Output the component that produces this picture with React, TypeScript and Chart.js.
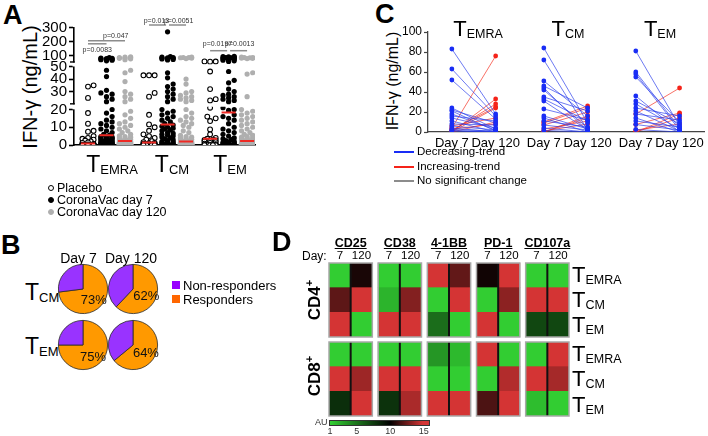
import React, { useEffect, useRef } from "react";
import { Chart, registerables } from "chart.js";

Chart.register(...registerables);

const FONT = '"Liberation Sans", Arial, Helvetica, sans-serif';
Chart.defaults.font.family = FONT;
Chart.defaults.color = "#000";

/* ---------------- Panel A data ---------------- */
const subsetsA = ["EMRA", "CM", "EM"];
const seriesNamesA = ["Placebo", "CoronaVac day 7", "CoronaVac day 120"];
const placeboEMRA = [35, 34, 25, 18, 12, 8, 7.5, 5, 4, 3.5, 3, 2.5, 2, 1.5, 1.2, 0.6, 0.3, 0.2, 0.1, 0, 0, 0, 0, 0, 0, 0, 0, 0, 0, 0];
const day7EMRA = [85, 82, 80, 78, 76, 74, 72, 70, 66, 62, 47, 42, 31, 29, 28, 26, 24, 22, 20, 18, 16, 14, 13, 12, 11, 10, 9, 8, 7, 6, 5.5, 4.8, 4.6, 4.4, 4.2, 4, 3.8, 3.5, 3.2, 3, 2.8, 2.5, 2.2, 2, 1.8, 1.6, 1.4, 1.2, 1, 0.8, 0.6, 0.5, 0.4, 0.3, 0.2, 0.1, 0, 0, 0, 0, 0];
const day120EMRA = [90, 88, 86, 85, 82, 80, 76, 70, 47, 45, 38, 30, 28, 26, 24, 22, 19, 17, 15, 13, 12, 11, 10, 9, 8, 7, 6, 5.2, 4.8, 4.4, 4, 3.6, 3.2, 2.9, 2.6, 2.3, 2.1, 2, 1.9, 1.8, 1.7, 1.6, 1.5, 1.4, 1.3, 1.2, 1.1, 1, 0.9, 0.8, 0.7, 0.6, 0.5, 0.45, 0.4, 0.35, 0.3, 0.25, 0.2, 0.15, 0.1, 0.05, 0, 0, 0, 0, 0, 0, 0, 0, 0, 0];
const placeboCM = [43, 43, 43, 29, 26, 17, 11.6, 10, 8, 6, 5, 4, 3, 2.2, 1.6, 1.2, 1, 0.8, 0.6, 0.4, 0.3, 0.2, 0.1, 0, 0, 0, 0, 0, 0, 0];
const day7CM = [270, 92, 88, 86, 84, 82, 80, 78, 75, 72, 68, 45, 41, 36, 34, 32, 30, 28, 26, 24, 22, 20, 19, 18, 17, 16, 15, 14, 13, 12, 11.2, 10.5, 10, 9.5, 9, 8.5, 8, 7, 6.5, 6, 5.5, 5, 4.5, 4, 3.5, 3, 2.5, 2, 1.8, 1.5, 1.2, 1, 0.8, 0.6, 0.4, 0.2, 0, 0, 0, 0];
const day120CM = [88, 86, 85, 84, 82, 78, 40, 36, 30, 29, 27, 26, 25, 24, 23, 22, 20, 18, 16, 15, 14, 13, 12, 11, 10, 8, 7, 5.5, 4.8, 4.4, 4, 3.6, 3.2, 2.8, 2.4, 2.1, 1.9, 1.8, 1.7, 1.6, 1.5, 1.4, 1.3, 1.2, 1.1, 1, 0.9, 0.8, 0.7, 0.6, 0.5, 0.45, 0.4, 0.35, 0.3, 0.25, 0.2, 0.15, 0.1, 0.05, 0, 0, 0, 0, 0, 0, 0, 0, 0, 0, 0, 0];
const placeboEM = [58, 57, 56, 46, 32, 24, 23, 21, 16, 15, 13.5, 8.8, 6, 4, 3.5, 3, 2.8, 2.6, 2.4, 2, 1.6, 1.2, 0.8, 0.5, 0.2, 0, 0, 0, 0];
const day7EM = [95, 92, 90, 88, 86, 84, 82, 80, 78, 76, 74, 70, 66, 62, 58, 46, 39, 37, 32, 30, 28, 27, 26, 25, 24, 23, 22, 21, 20, 19.5, 17, 16, 15, 14, 12, 10, 9, 8, 7, 6, 5, 4, 3.5, 3, 2.5, 2, 1.8, 1.5, 1.2, 1, 0.8, 0.6, 0.4, 0.2, 0, 0, 0, 0, 0, 0];
const day120EM = [88, 86, 85, 84, 82, 80, 78, 45, 44, 26, 20, 19, 18, 17, 16, 15, 14, 13, 12, 11, 10, 9, 8, 7, 6, 5.5, 4.8, 4.5, 4.2, 3.9, 3.6, 3.3, 3, 2.7, 2.4, 2.3, 2.1, 2, 1.9, 1.8, 1.7, 1.6, 1.5, 1.4, 1.3, 1.2, 1.1, 1, 0.9, 0.8, 0.7, 0.6, 0.5, 0.45, 0.4, 0.35, 0.3, 0.25, 0.2, 0.15, 0.1, 0.05, 0, 0, 0, 0, 0, 0, 0, 0, 0, 0];
const yTicksA = [0, 10, 20, 30, 40, 50, 100, 200, 300];
const pValuesA = ["p=0.0083", "p=0.047", "p=0.013", "p=0.0051", "p=0.0197", "p=0.0013"];

/* ---------------- Panel B data ---------------- */
const pieLabelsB = ["Responders", "Non-responders"];
const pieDaysB = ["Day 7", "Day 120"];
const respondersCM = [73, 62];
const respondersEM = [75, 64];

/* ---------------- Panel C data ---------------- */
const subsetsC = ["EMRA", "CM", "EM"];
const daysC = ["Day 7", "Day 120"];
const emraDecDay7 = [83, 63, 52, 24, 22, 21, 18, 16, 14, 11, 8, 6, 4, 2.5, 1.5, 1];
const emraDecDay120 = [18, 16, 13, 3, 9, 1, 2, 11, 4, 0, 7, 2, 0, 1, 0, 0];
const emraIncDay7 = [4, 0, 1, 2, 0, 6, 0, 3];
const emraIncDay120 = [76, 33, 28, 25, 24, 14, 10, 8];
const cmDecDay7 = [84, 72, 51, 46, 44, 42, 35, 33, 31, 23, 16, 14, 11, 7, 4, 1.5];
const cmDecDay120 = [9, 2, 16, 24, 1, 4, 21, 11, 2, 12, 3, 0, 5, 2, 0, 0];
const cmIncDay7 = [10, 9, 7, 0, 0, 3, 1];
const cmIncDay120 = [26, 24, 20, 16, 14, 11, 8];
const emDecDay7 = [81, 60, 58, 55, 36, 31, 28, 24, 21, 18, 14, 11, 7.5, 2.5];
const emDecDay120 = [6, 4, 2, 10, 0, 8, 3, 16, 1, 12, 0, 5, 2, 0];
const emIncDay7 = [18, 7.5, 0, 0, 2];
const emIncDay120 = [44, 19, 18, 14, 8];
const yTicksC = [0, 20, 40, 60, 80, 100];
const legendC = ["Decreasing-trend", "Increasing-trend", "No significant change"];

/* ---------------- Panel D data (AU) ---------------- */
const markersD = ["CD25", "CD38", "4-1BB", "PD-1", "CD107a"];
const rowsD = ["EMRA", "CM", "EM"];
// per marker: [TEMRA, TCM, TEM]
const cd4Day7 = [[1, 12.2, 15], [1, 2.1, 15], [15, 1, 5.2], [10.4, 1, 15], [1, 15, 6.9]];
const cd4Day120 = [[10.6, 15, 1], [1, 13.1, 15], [12.3, 15, 1], [15, 13.3, 1], [1, 15, 6.9]];
const cd8Day7 = [[1, 15, 8.0], [1, 15, 7.8], [3.4, 1, 15], [15, 1, 11.8], [1, 15, 1.7]];
const cd8Day120 = [[1, 13.7, 15], [1, 15, 14], [1.9, 1, 15], [1, 14.2, 15], [15, 13.9, 1]];
const auTicks = [1, 5, 10, 15];

/* ---------------- helpers ---------------- */
const BLUE = "rgb(25,45,245)";
const RED = "rgb(245,35,25)";
const GRAY_PT = "rgb(175,175,175)";
const ORANGE = "#FF9900";
const PURPLE = "#9933FF";

function median(a: number[]) {
  const s = [...a].sort((p, q) => p - q);
  const n = s.length;
  return n % 2 ? s[(n - 1) / 2] : (s[n / 2 - 1] + s[n / 2]) / 2;
}

const xPosA = (g: number, s: number) => 1 + g * 3.3 + s;
const segOf = (v: number) => (v <= 21.5 ? "y1" : v <= 51.6 ? "y2" : "y3");

// deterministic beeswarm spreading of points with similar values
function swarm(values: number[], cx: number) {
  const PX = 18.5;
  const pix = (v: number) => (v <= 21.5 ? 145.7 - 1.785 * v : v <= 51.6 ? 66.7 + (50 - v) * 1.265 : 62.7 - (v - 50) * 0.14);
  const cands = [0, 2.8, -2.8, 5.6, -5.6];
  const placed: { px: number; py: number }[] = [];
  const order = values.map((_, i) => i).sort((a, b) => values[a] - values[b]);
  const out: { x: number; y: number }[] = new Array(values.length);
  for (const i of order) {
    const py = pix(values[i]);
    let best = 0;
    let bestScore = Infinity;
    cands.forEach((c, k) => {
      let score = k * 0.01;
      for (const p of placed) {
        const d = Math.hypot(p.px - c, p.py - py);
        if (d < 4.8) score += 4.8 - d;
      }
      if (score < bestScore) {
        bestScore = score;
        best = c;
      }
    });
    placed.push({ px: best, py });
    out[i] = { x: cx + best / PX, y: values[i] };
  }
  return out;
}

function auColor(v: number) {
  const g = [50, 205, 50];
  const r = [212, 52, 52];
  if (v <= 10) {
    const t = Math.max(0, (v - 1) / 9);
    return `rgb(${g.map((c) => Math.round(c * (1 - t))).join(",")})`;
  }
  const t = Math.min(1, (v - 10) / 5);
  return `rgb(${r.map((c) => Math.round(c * t)).join(",")})`;
}

/* ---------------- chart configs ---------------- */
const baseOpts = {
  responsive: false,
  maintainAspectRatio: false,
  animation: false,
  devicePixelRatio: 1,
  events: [],
};

function configA() {
  const valuesA = [
    [placeboEMRA, placeboCM, placeboEM],
    [day7EMRA, day7CM, day7EM],
    [day120EMRA, day120CM, day120EM],
  ];
  const styles = [
    { fill: "#fff", stroke: "#000", bw: 1.1 },
    { fill: "#000", stroke: "#000", bw: 0 },
    { fill: GRAY_PT, stroke: GRAY_PT, bw: 0 },
  ];
  const datasets: any[] = [];
  valuesA.forEach((groups, s) => {
    const segs: Record<string, any[]> = { y1: [], y2: [], y3: [] };
    groups.forEach((vals, g) => swarm(vals, xPosA(g, s)).forEach((p) => segs[segOf(p.y)].push(p)));
    ["y1", "y2", "y3"].forEach((id) =>
      datasets.push({
        type: "scatter",
        label: seriesNamesA[s],
        yAxisID: id,
        data: segs[id],
        pointRadius: s === 0 ? 2.4 : 2.6,
        pointHoverRadius: 2.6,
        pointBackgroundColor: styles[s].fill,
        pointBorderColor: styles[s].stroke,
        pointBorderWidth: styles[s].bw,
        order: 1,
      })
    );
  });
  valuesA.forEach((groups, s) =>
    groups.forEach((vals, g) => {
      const m = median(vals);
      const cx = xPosA(g, s);
      datasets.push({
        type: "line",
        yAxisID: segOf(m),
        data: [
          { x: cx - 0.38, y: m },
          { x: cx + 0.38, y: m },
        ],
        borderColor: "#ee2a24",
        borderWidth: 2,
        pointRadius: 0,
        order: 0,
      })
    })
  );

  const yAxis = (tv: number[], min: number, max: number, weight: number) => ({
    type: "linear",
    position: "left",
    stack: "brk",
    stackWeight: weight,
    min,
    max,
    offset: false,
    border: { display: true, color: "#000", width: 1.6 },
    grid: { display: true, drawOnChartArea: false, drawTicks: true, tickLength: 5, tickColor: "#000", tickWidth: 1.6 },
    ticks: { font: { size: 15 }, color: "#000", padding: 2, autoSkip: false, maxRotation: 0 },
    afterBuildTicks: (sc: any) => {
      sc.ticks = tv.map((v) => ({ value: v }));
    },
    afterFit: (sc: any) => {
      sc.width = 40;
    },
  });

  const brackets = [
    { from: xPosA(0, 0), to: xPosA(0, 1), y: 43.8, text: pValuesA[0], tx: (xPosA(0, 0) + xPosA(0, 1)) / 2, ty: 51.5 },
    { from: xPosA(0, 0), to: xPosA(0, 2), y: 40.8, text: pValuesA[1], tx: (xPosA(0, 1) + xPosA(0, 2)) / 2, ty: 38 },
    { from: xPosA(1, 0), to: xPosA(1, 1) - 0.08, y: 25, text: pValuesA[2], tx: (xPosA(1, 0) + xPosA(1, 1)) / 2 - 0.1, ty: 23 },
    { from: xPosA(1, 1) + 0.08, to: xPosA(1, 2), y: 25, text: pValuesA[3], tx: (xPosA(1, 1) + xPosA(1, 2)) / 2 + 0.1, ty: 23 },
    { from: xPosA(2, 0), to: xPosA(2, 1) - 0.08, y: 50.7, text: pValuesA[4], tx: (xPosA(2, 0) + xPosA(2, 1)) / 2 - 0.1, ty: 45.8 },
    { from: xPosA(2, 1) + 0.08, to: xPosA(2, 2), y: 50.7, text: pValuesA[5], tx: (xPosA(2, 1) + xPosA(2, 2)) / 2 + 0.1, ty: 45.8 },
  ];

  const extras = {
    id: "aExtras",
    afterDraw(chart: any) {
      const { ctx, chartArea, scales } = chart;
      const X = scales.x;
      const L = chartArea.left;
      ctx.save();
      [
        { yb: scales.y3.bottom, h: 4 },
        { yb: scales.y2.bottom, h: 5 },
      ].forEach(({ yb, h }) => {
        ctx.fillStyle = "#fff";
        ctx.fillRect(L - 1.5, yb - h / 2, 3, h);
        ctx.fillStyle = "#000";
        ctx.fillRect(L - 4, yb - h / 2 - 1.2, 4.8, 1.4);
      });
      ctx.strokeStyle = "#8c8c8c";
      ctx.lineWidth = 1.5;
      ctx.fillStyle = "#333";
      ctx.font = `7px ${FONT}`;
      ctx.textAlign = "center";
      ctx.textBaseline = "alphabetic";
      brackets.forEach((b) => {
        ctx.beginPath();
        ctx.moveTo(X.getPixelForValue(b.from), b.y);
        ctx.lineTo(X.getPixelForValue(b.to), b.y);
        ctx.stroke();
        ctx.fillText(b.text, X.getPixelForValue(b.tx), b.ty);
      });
      ctx.restore();
    },
  };

  return {
    type: "scatter",
    data: { datasets },
    options: {
      ...baseOpts,
      layout: { padding: { left: 34, right: 7, top: 27.7, bottom: 10.3 } },
      plugins: { legend: { display: false }, tooltip: { enabled: false } },
      scales: {
        x: {
          type: "linear",
          min: 0.2432,
          max: 10.027,
          ticks: { display: false },
          grid: { display: false, drawTicks: false },
          border: { display: true, color: "#000", width: 1.6 },
          afterFit: (sc: any) => {
            sc.height = 0;
          },
        },
        y1: yAxis(yTicksA.slice(0, 3), 0, 21.5, 38.4),
        y2: yAxis(yTicksA.slice(3, 6), 17.9, 51.6, 42.6),
        y3: yAxis(yTicksA.slice(6), 35.7, 300, 37),
      },
    },
    plugins: [extras],
  };
}

function configPie(resp: number) {
  const pct = {
    id: "pct",
    afterDatasetsDraw(chart: any) {
      const arc = chart.getDatasetMeta(0).data[0];
      const { x, y, startAngle, endAngle, outerRadius } = arc.getProps(["x", "y", "startAngle", "endAngle", "outerRadius"], true);
      const mid = (startAngle + endAngle) / 2;
      const r = outerRadius * 0.58;
      const ctx = chart.ctx;
      ctx.save();
      ctx.fillStyle = "#111";
      ctx.font = `13px ${FONT}`;
      ctx.textAlign = "center";
      ctx.textBaseline = "middle";
      ctx.fillText(`${chart.data.datasets[0].data[0]}%`, x + Math.cos(mid) * r, y + Math.sin(mid) * r + 2);
      ctx.restore();
    },
  };
  return {
    type: "pie",
    data: {
      labels: pieLabelsB,
      datasets: [{ data: [resp, 100 - resp], backgroundColor: [ORANGE, PURPLE], borderColor: "#2a2a2a", borderWidth: 0.8 }],
    },
    options: {
      ...baseOpts,
      layout: { padding: 2 },
      plugins: { legend: { display: false }, tooltip: { enabled: false } },
    },
    plugins: [pct],
  };
}

const xDay7C = [0, 2.1, 4.2];
const xDay120C = [1, 3.1, 5.2];

function configC() {
  const sets = [
    [emraDecDay7, emraDecDay120, emraIncDay7, emraIncDay120],
    [cmDecDay7, cmDecDay120, cmIncDay7, cmIncDay120],
    [emDecDay7, emDecDay120, emIncDay7, emIncDay120],
  ];
  const datasets: any[] = [];
  sets.forEach(([d7, d120, i7, i120], g) => {
    const add = (a: number[], b: number[], color: string, line: string) =>
      a.forEach((v, i) =>
        datasets.push({
          type: "scatter",
          showLine: true,
          data: [
            { x: xDay7C[g], y: v },
            { x: xDay120C[g], y: b[i] },
          ],
          borderColor: line,
          borderWidth: 0.8,
          pointRadius: 2.4,
          pointHoverRadius: 2.4,
          pointBackgroundColor: color,
          pointBorderWidth: 0,
        })
      );
    add(d7, d120, BLUE, "rgba(40,60,235,0.85)");
    add(i7, i120, RED, "rgba(245,45,30,0.85)");
  });
  const tickPos = [xDay7C[0], xDay120C[0], xDay7C[1], xDay120C[1], xDay7C[2], xDay120C[2]];
  return {
    type: "scatter",
    data: { datasets },
    options: {
      ...baseOpts,
      layout: { padding: { left: 38, right: 2, top: 32, bottom: 6 } },
      plugins: { legend: { display: false }, tooltip: { enabled: false } },
      scales: {
        x: {
          type: "linear",
          min: -0.545,
          max: 5.773,
          border: { color: "#444", width: 1.3 },
          grid: { display: false, drawTicks: false },
          ticks: {
            font: { size: 13 },
            color: "#000",
            padding: 4,
            autoSkip: false,
            maxRotation: 0,
            callback: (_v: any, i: number) => daysC[i % 2],
          },
          afterBuildTicks: (sc: any) => {
            sc.ticks = tickPos.map((v) => ({ value: v }));
          },
          afterFit: (sc: any) => {
            sc.height = 22;
          },
        },
        y: {
          type: "linear",
          min: 0,
          max: 100,
          border: { color: "#444", width: 1.3 },
          grid: { drawOnChartArea: false, tickLength: 4, tickColor: "#444", tickWidth: 1.2 },
          ticks: { font: { size: 12 }, color: "#000", padding: 2, autoSkip: false },
          afterBuildTicks: (sc: any) => {
            sc.ticks = yTicksC.map((v) => ({ value: v }));
          },
          afterFit: (sc: any) => {
            sc.width = 30;
          },
        },
      },
    },
  };
}

const BLOCK = 2.27;

function configHeat(day7: number[][], day120: number[][]) {
  const datasets: any[] = [];
  markersD.forEach((_, b) => {
    [day7, day120].forEach((arr, c) => {
      const x0 = b * BLOCK + c;
      datasets.push({
        data: rowsD.map(() => [x0, x0 + 1]),
        backgroundColor: arr[b].map(auColor),
        borderWidth: 0,
        barPercentage: 1,
        categoryPercentage: 1,
        grouped: false,
      });
    });
  });
  const outline = {
    id: "outline",
    afterDatasetsDraw(chart: any) {
      const { ctx, chartArea, scales } = chart;
      const X = scales.x;
      ctx.save();
      markersD.forEach((_, b) => {
        const x0 = X.getPixelForValue(b * BLOCK);
        const x1 = X.getPixelForValue(b * BLOCK + 2);
        const xm = X.getPixelForValue(b * BLOCK + 1);
        ctx.strokeStyle = "#111";
        ctx.lineWidth = 2;
        ctx.beginPath();
        ctx.moveTo(xm, chartArea.top);
        ctx.lineTo(xm, chartArea.bottom);
        ctx.stroke();
        ctx.strokeStyle = "#a8a8a8";
        ctx.lineWidth = 1.5;
        ctx.strokeRect(x0, chartArea.top, x1 - x0, chartArea.bottom - chartArea.top);
      });
      ctx.restore();
    },
  };
  return {
    type: "bar",
    data: { labels: rowsD, datasets },
    options: {
      ...baseOpts,
      indexAxis: "y",
      layout: { padding: 2 },
      datasets: { bar: { grouped: false } },
      plugins: { legend: { display: false }, tooltip: { enabled: false } },
      scales: {
        x: { type: "linear", min: 0, max: 4 * BLOCK + 2, display: false },
        y: { type: "category", display: false },
      },
    },
    plugins: [outline],
  };
}

/* ---------------- components ---------------- */
function ChartBox({ left, top, width, height, make }: any) {
  const ref = useRef<HTMLCanvasElement | null>(null);
  useEffect(() => {
    const chart = new Chart(ref.current as HTMLCanvasElement, make());
    return () => chart.destroy();
  }, []);
  return <canvas ref={ref} width={width} height={height} style={{ position: "absolute", left, top, width, height }} />;
}

function Txt({ x, y, size, bold, anchor = "left", color = "#000", children, style }: any) {
  const tx = anchor === "center" ? "-50%" : anchor === "right" ? "-100%" : "0";
  return (
    <div
      style={{
        position: "absolute",
        left: x,
        top: y - 0.847 * size,
        fontSize: size,
        lineHeight: `${size}px`,
        fontWeight: bold ? "bold" : "normal",
        color,
        whiteSpace: "nowrap",
        transform: `translateX(${tx})`,
        fontFamily: FONT,
        ...style,
      }}
    >
      {children}
    </div>
  );
}

function TLabel({ x, y, sub, big = 23, small = 13, anchor = "center", dy = 2 }: any) {
  return (
    <Txt x={x} y={y} size={big} anchor={anchor}>
      T<span style={{ fontSize: small, lineHeight: `${small}px`, position: "relative", top: dy }}>{sub}</span>
    </Txt>
  );
}

function VTxt({ cx, cy, size, bold, children }: any) {
  return (
    <div
      style={{
        position: "absolute",
        left: cx,
        top: cy,
        fontSize: size,
        lineHeight: `${size}px`,
        fontWeight: bold ? "bold" : "normal",
        whiteSpace: "nowrap",
        transform: "translate(-50%,-50%) rotate(-90deg)",
        fontFamily: FONT,
      }}
    >
      {children}
    </div>
  );
}

function Dot({ cx, cy, fill, stroke }: any) {
  return (
    <div
      style={{
        position: "absolute",
        left: cx - 3,
        top: cy - 3,
        width: 6,
        height: 6,
        boxSizing: "border-box",
        borderRadius: "50%",
        background: fill,
        border: `1.2px solid ${stroke}`,
      }}
    />
  );
}

export default function App() {
  const pieCenters = [
    { cx: 83, cy: 289, r: respondersCM[0] },
    { cx: 133, cy: 289, r: respondersCM[1] },
    { cx: 83, cy: 345, r: respondersEM[0] },
    { cx: 133, cy: 345, r: respondersEM[1] },
  ];
  const blockCenters = markersD.map((_, b) => 329 + b * BLOCK * 21.66 + 21.66);
  const barStops: string[] = [];
  for (let v = 1; v <= 15; v += 0.5) {
    barStops.push(`${auColor(v)} ${(((1 + (v - 1) * 6.7) / 101) * 100).toFixed(1)}%`);
  }
  return (
    <div style={{ position: "fixed", left: 0, top: 0, width: 708, height: 436, background: "#fff", overflow: "hidden", fontFamily: FONT }}>
      {/* Panel A */}
      <Txt x={3} y={25} size={27} bold>A</Txt>
      <VTxt cx={30} cy={87} size={20}>IFN-γ (ng/mL)</VTxt>
      <ChartBox left={0} top={0} width={262} height={156} make={configA} />
      <TLabel x={112} y={172} sub={subsetsA[0]} />
      <TLabel x={172} y={172} sub={subsetsA[1]} />
      <TLabel x={230} y={172} sub={subsetsA[2]} />
      <Dot cx={51} cy={188} fill="#fff" stroke="#000" />
      <Dot cx={51} cy={200} fill="#000" stroke="#000" />
      <Dot cx={51} cy={212} fill={GRAY_PT} stroke={GRAY_PT} />
      <Txt x={57} y={192.5} size={12.5}>{seriesNamesA[0]}</Txt>
      <Txt x={57} y={204.5} size={12.5}>{seriesNamesA[1]}</Txt>
      <Txt x={57} y={216.5} size={12.5}>{seriesNamesA[2]}</Txt>

      {/* Panel B */}
      <Txt x={1} y={255} size={27} bold>B</Txt>
      <Txt x={78.5} y={263} size={14} anchor="center">{pieDaysB[0]}</Txt>
      <Txt x={131} y={263} size={14} anchor="center">{pieDaysB[1]}</Txt>
      <TLabel x={25} y={300} sub="CM" anchor="left" />
      <TLabel x={25} y={354} sub="EM" anchor="left" />
      {pieCenters.map((p, i) => (
        <ChartBox key={i} left={p.cx - 27} top={p.cy - 27} width={54} height={54} make={() => configPie(p.r)} />
      ))}
      <div style={{ position: "absolute", left: 172, top: 281, width: 8, height: 8, background: "#9900FF" }} />
      <div style={{ position: "absolute", left: 172, top: 295, width: 8, height: 8, background: "#FF6600" }} />
      <Txt x={183} y={290} size={13}>{pieLabelsB[1]}</Txt>
      <Txt x={183} y={304} size={13}>{pieLabelsB[0]}</Txt>

      {/* Panel C */}
      <Txt x={375} y={24} size={27} bold>C</Txt>
      <VTxt cx={393} cy={81} size={16}>IFN-γ (ng/mL)</VTxt>
      <ChartBox left={360} top={0} width={348} height={160} make={configC} />
      <TLabel x={478} y={37} sub={subsetsC[0]} big={22} small={12.5} />
      <TLabel x={568} y={37} sub={subsetsC[1]} big={22} small={12.5} />
      <TLabel x={660} y={37} sub={subsetsC[2]} big={22} small={12.5} />
      {[BLUE, RED, "rgb(140,140,140)"].map((c, i) => (
        <div key={i} style={{ position: "absolute", left: 394, top: 151 + i * 14.5, width: 20, height: 2, background: c }} />
      ))}
      {legendC.map((t, i) => (
        <Txt key={t} x={417} y={156 + i * 14.5} size={11.5}>{t}</Txt>
      ))}

      {/* Panel D */}
      <Txt x={272} y={252} size={27} bold>D</Txt>
      <Txt x={302} y={260} size={12}>Day:</Txt>
      {markersD.map((m, b) => (
        <React.Fragment key={m}>
          <Txt x={blockCenters[b]} y={248} size={12.5} bold anchor="center" style={{ textDecoration: "underline" }}>{m}</Txt>
          <Txt x={blockCenters[b] - 10.8} y={260} size={11.5} anchor="center">7</Txt>
          <Txt x={blockCenters[b] + 10.8} y={260} size={11.5} anchor="center">120</Txt>
        </React.Fragment>
      ))}
      <ChartBox left={327} top={261} width={244} height={78} make={() => configHeat(cd4Day7, cd4Day120)} />
      <ChartBox left={327} top={340} width={244} height={78} make={() => configHeat(cd8Day7, cd8Day120)} />
      <VTxt cx={315} cy={300} size={17} bold>CD4<span style={{ fontSize: 11, position: "relative", top: -7 }}>+</span></VTxt>
      <VTxt cx={315} cy={376} size={17} bold>CD8<span style={{ fontSize: 11, position: "relative", top: -7 }}>+</span></VTxt>
      {[283, 308, 333, 362, 387, 413].map((y, i) => (
        <TLabel key={i} x={572} y={y} sub={rowsD[i % 3]} big={22} small={12.5} anchor="left" dy={1.5} />
      ))}
      <Txt x={315} y={426} size={9} color="#333">AU</Txt>
      <div
        style={{
          position: "absolute",
          left: 329,
          top: 420,
          width: 101,
          height: 6,
          boxSizing: "border-box",
          border: "0.6px solid #333",
          background: `linear-gradient(to right, ${barStops.join(", ")})`,
        }}
      />
      {auTicks.map((v) => (
        <Txt key={v} x={330 + (v - 1) * 6.7} y={435} size={9} anchor="center" color="#333">{v}</Txt>
      ))}
    </div>
  );
}
